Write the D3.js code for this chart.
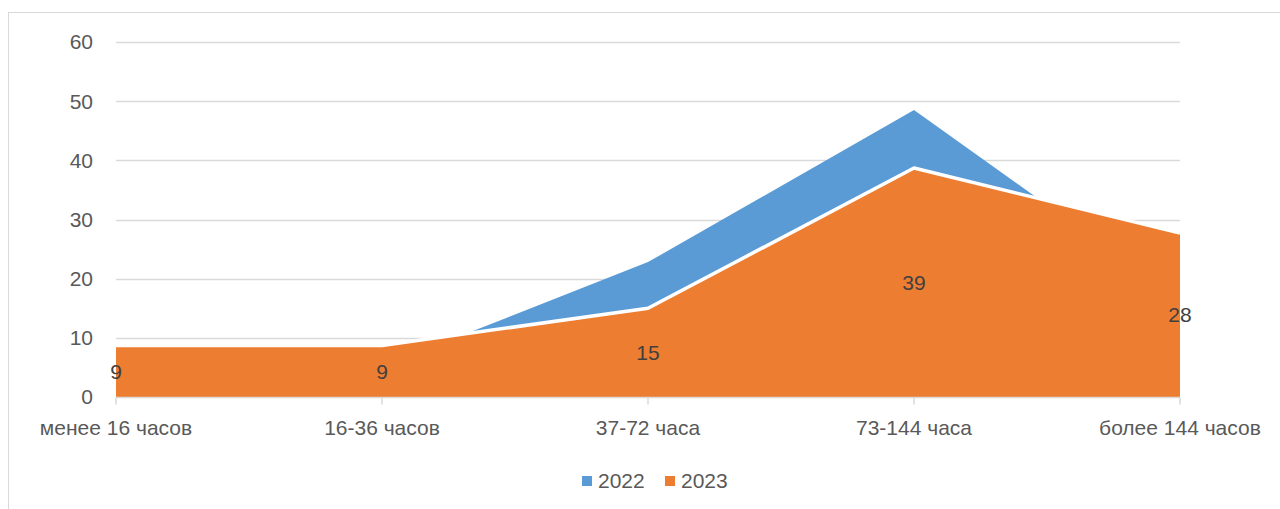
<!DOCTYPE html>
<html>
<head>
<meta charset="utf-8">
<script src="https://cdn.jsdelivr.net/npm/d3@7"></script>
<style>
  body { margin: 0; background: #fff; }
  svg { display: block; font-family: "Liberation Sans", Arial, sans-serif; }
</style>
</head>
<body>
<svg id="chart"></svg>
<script>
(function () {

    // Data
    const categories = ["менее 16 часов", "16-36 часов", "37-72 часа", "73-144 часа", "более 144 часов"];
    const values2022 = [5, 5.1, 22.8, 48.5, 16.4];
    const values2023 = [8.7, 8.7, 15, 38.7, 27.7];
    const seriesNames = ["2022", "2023"];
    const seriesColors = ["#5B9BD5", "#ED7D31"];
    const yTicks = [0, 10, 20, 30, 40, 50, 60];

    const width = 1280, height = 509;
    const margin = { left: 116, right: 100, top: 42, bottom: 112 };
    const fontSize = "21px";

    const svg = d3.select("#chart")
        .attr("width", width)
        .attr("height", height);

    // Chart area frame
    svg.append("rect")
        .attr("x", 8.5).attr("y", 12.5)
        .attr("width", width + 20).attr("height", height + 20)
        .attr("fill", "none")
        .attr("stroke", "#d9d9d9");

    const x = d3.scalePoint()
        .domain(categories)
        .range([margin.left, width - margin.right]);

    const y = d3.scaleLinear()
        .domain([0, 60])
        .range([height - margin.bottom, margin.top]);

    // Gridlines
    svg.append("g")
        .selectAll("line")
        .data(yTicks.filter(d => d > 0))
        .enter().append("line")
        .attr("x1", margin.left).attr("x2", width - margin.right)
        .attr("y1", d => Math.round(y(d)) + 0.5).attr("y2", d => Math.round(y(d)) + 0.5)
        .attr("stroke", "#d9d9d9")
        .attr("stroke-width", 1.5);

    // Y tick labels
    svg.append("g")
        .selectAll("text")
        .data(yTicks)
        .enter().append("text")
        .attr("x", 93)
        .attr("y", d => y(d))
        .attr("dy", "0.35em")
        .attr("text-anchor", "end")
        .attr("fill", "#595959")
        .style("font-size", fontSize)
        .text(d => d);

    const area = d3.area()
        .x((d, i) => x(categories[i]))
        .y0(y(0))
        .y1(d => y(d));

    const line = d3.line()
        .x((d, i) => x(categories[i]))
        .y(d => y(d));

    // 2022 area (behind)
    svg.append("path")
        .datum(values2022)
        .attr("d", area)
        .attr("fill", seriesColors[0]);

    // 2023 area (front)
    svg.append("path")
        .datum(values2023)
        .attr("d", area)
        .attr("fill", seriesColors[1]);

    svg.append("path")
        .datum(values2023)
        .attr("d", line)
        .attr("fill", "none")
        .attr("stroke", "#fff")
        .attr("stroke-width", 3.5)
        .attr("stroke-linejoin", "round");

    // X axis line and ticks
    const axisY = y(0) + 0.5;
    svg.append("line")
        .attr("x1", margin.left).attr("x2", width - margin.right)
        .attr("y1", axisY).attr("y2", axisY)
        .attr("stroke", "#d9d9d9")
        .attr("stroke-width", 1.5);

    svg.append("g")
        .selectAll("line")
        .data(categories)
        .enter().append("line")
        .attr("x1", d => x(d)).attr("x2", d => x(d))
        .attr("y1", axisY).attr("y2", axisY + 7)
        .attr("stroke", "#d9d9d9")
        .attr("stroke-width", 1.5);

    svg.append("g")
        .selectAll("text")
        .data(categories)
        .enter().append("text")
        .attr("x", d => x(d))
        .attr("y", 428)
        .attr("dy", "0.35em")
        .attr("text-anchor", "middle")
        .attr("fill", "#595959")
        .style("font-size", fontSize)
        .text(d => d);

    // Data labels for 2023 (centered in the area)
    svg.append("g")
        .selectAll("text")
        .data(values2023)
        .enter().append("text")
        .attr("x", (d, i) => x(categories[i]))
        .attr("y", d => y(d / 2))
        .attr("dy", "0.35em")
        .attr("text-anchor", "middle")
        .attr("fill", "#404040")
        .style("font-size", fontSize)
        .text(d => Math.round(d));

    // Legend
    const legendX = [582, 665];
    const legend = svg.append("g")
        .selectAll("g")
        .data(seriesNames)
        .enter().append("g")
        .attr("transform", (d, i) => "translate(" + legendX[i] + ",481)");

    legend.append("rect")
        .attr("x", 0).attr("y", -5)
        .attr("width", 10).attr("height", 10)
        .attr("fill", (d, i) => seriesColors[i]);

    legend.append("text")
        .attr("x", 16)
        .attr("y", 0)
        .attr("dy", "0.35em")
        .attr("fill", "#595959")
        .style("font-size", fontSize)
        .text(d => d);
})();
</script>
</body>
</html>
